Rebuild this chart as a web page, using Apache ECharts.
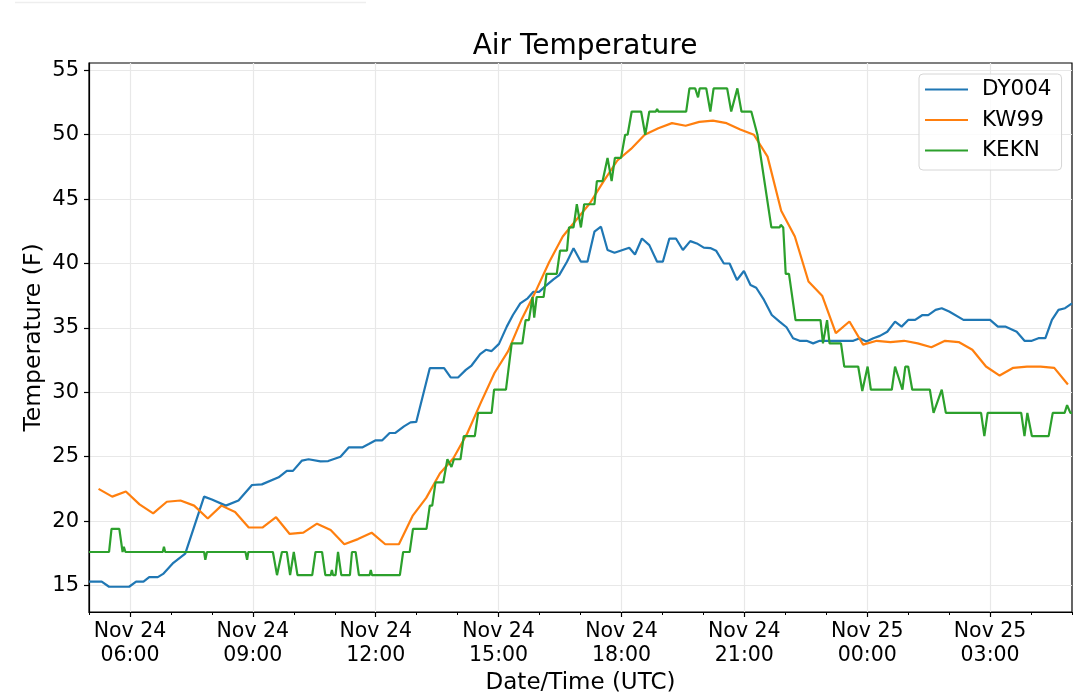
<!DOCTYPE html>
<html>
<head>
<meta charset="utf-8">
<title>Air Temperature</title>
<script src="https://cdn.jsdelivr.net/npm/echarts@6/dist/echarts.min.js"></script>
<style>
  html, body { margin: 0; padding: 0; background: #fff; }
  #chart { width: 1080px; height: 697px; }
</style>
</head>
<body>
<div id="chart"></div>
<script>
// x values are hours counted from Nov 24 00:00 UTC
const baseDay = Date.UTC(2019, 10, 24);
const stationNames = ["DY004", "KW99", "KEKN"];
const stationColors = ["#1f77b4", "#ff7f0e", "#2ca02c"];

// DY004: [hour, temp F]
const dyPoints = [
  [5.0,15.3],[5.31,15.3],[5.49,14.9],[5.98,14.9],[6.15,15.3],[6.33,15.3],[6.47,15.65],[6.68,15.65],
  [6.81,15.9],[7.06,16.76],[7.35,17.48],[7.81,21.9],[8.0,21.67],[8.34,21.2],[8.65,21.6],[8.98,22.8],
  [9.22,22.85],[9.63,23.4],[9.83,23.9],[9.98,23.9],[10.2,24.7],[10.36,24.8],[10.65,24.64],[10.84,24.66],
  [11.14,25.0],[11.34,25.72],[11.67,25.72],[11.83,25.98],[12.0,26.27],[12.16,26.27],[12.34,26.84],[12.48,26.84],
  [12.69,27.35],[12.85,27.66],[12.99,27.7],[13.32,31.87],[13.67,31.87],[13.83,31.15],[14.01,31.15],[14.2,31.74],
  [14.34,32.08],[14.55,32.96],[14.69,33.3],[14.83,33.2],[15.01,33.76],[15.2,35.1],[15.35,36.0],[15.53,36.9],
  [15.71,37.3],[15.85,37.8],[15.99,37.8],[16.15,38.26],[16.34,38.77],[16.48,39.1],[16.67,40.14],[16.83,41.18],
  [17.01,40.14],[17.17,40.14],[17.34,42.47],[17.5,42.86],[17.66,41.05],[17.83,40.84],[18.19,41.23],[18.33,40.7],
  [18.5,41.94],[18.68,41.43],[18.87,40.14],[19.01,40.14],[19.17,41.94],[19.33,41.94],[19.5,41.05],[19.68,41.74],
  [19.84,41.56],[20.01,41.23],[20.17,41.2],[20.31,41.0],[20.5,40.0],[20.64,40.0],[20.82,38.72],[20.99,39.42],
  [21.15,38.33],[21.29,38.12],[21.48,37.17],[21.67,36.0],[21.86,35.49],[22.03,35.05],[22.19,34.2],[22.35,34.0],
  [22.52,34.0],[22.68,33.8],[22.84,34.0],[23.66,34.0],[23.82,34.2],[23.98,33.95],[24.15,34.2],[24.31,34.38],
  [24.49,34.7],[24.68,35.49],[24.84,35.1],[25.0,35.62],[25.17,35.62],[25.35,36.0],[25.49,36.0],[25.67,36.4],
  [25.82,36.53],[26.0,36.27],[26.35,35.62],[27.0,35.62],[27.19,35.1],[27.37,35.1],[27.65,34.7],[27.84,34.0],
  [28.02,34.0],[28.18,34.2],[28.35,34.2],[28.51,35.62],[28.67,36.4],[28.83,36.53],[29.0,36.9]
];

// KW99: one reading every 20 minutes from 05:14
const kwStartHour = 5 + 14 / 60;
const kwStepHours = 20 / 60;
const kwTemps = [
  22.5,21.9,22.3,21.3,20.6,21.5,21.6,21.2,20.2,21.2,
  20.7,19.5,19.5,20.3,19.0,19.1,19.8,19.3,18.2,18.6,
  19.1,18.2,18.2,20.4,21.8,23.7,24.9,26.8,29.2,31.5,
  33.2,35.7,37.8,40.1,42.1,43.4,44.7,46.4,48.0,48.9,
  50.0,50.5,50.9,50.7,51.0,51.1,50.9,50.4,50.0,48.3,
  44.1,42.1,38.6,37.5,34.6,35.5,33.7,34.0,33.9,34.0,
  33.8,33.5,34.0,33.9,33.3,32.0,31.3,31.9,32.0,32.0,
  31.9,30.6
];

// KEKN: [hour, temp F]
const kePoints = [
  [5.0,17.6],[5.49,17.6],[5.55,19.4],[5.74,19.4],[5.82,17.6],[5.85,18.0],[5.89,17.6],[6.8,17.6],
  [6.83,18.0],[6.86,17.6],[7.81,17.6],[7.84,17.0],[7.88,17.6],[8.82,17.6],[8.86,17.0],[8.89,17.6],
  [9.49,17.6],[9.59,15.8],[9.71,17.6],[9.83,17.6],[9.91,15.8],[10.0,17.6],[10.09,15.8],[10.45,15.8],
  [10.53,17.6],[10.69,17.6],[10.77,15.8],[10.9,15.8],[10.93,16.2],[10.96,15.8],[11.02,15.8],[11.08,17.6],
  [11.16,15.8],[11.37,15.8],[11.42,17.6],[11.51,17.6],[11.59,15.8],[11.85,15.8],[11.88,16.2],[11.91,15.8],
  [12.59,15.8],[12.67,17.6],[12.83,17.6],[12.91,19.4],[13.24,19.4],[13.32,21.2],[13.38,21.2],[13.46,23.0],
  [13.65,23.0],[13.75,24.8],[13.85,24.2],[13.91,24.8],[14.07,24.8],[14.15,26.6],[14.42,26.6],[14.5,28.4],
  [14.83,28.4],[14.89,30.2],[15.18,30.2],[15.32,33.8],[15.58,33.8],[15.66,35.6],[15.74,35.6],[15.83,37.4],
  [15.87,35.8],[15.93,37.4],[16.1,37.4],[16.17,39.2],[16.42,39.2],[16.5,41.0],[16.67,41.0],[16.72,42.8],
  [16.83,42.8],[16.91,44.6],[17.01,42.8],[17.09,44.6],[17.34,44.6],[17.4,46.4],[17.54,46.4],[17.66,48.2],
  [17.76,46.4],[17.84,48.2],[17.99,48.2],[18.09,50.0],[18.15,50.0],[18.25,51.8],[18.48,51.8],[18.58,50.0],
  [18.68,51.8],[18.84,51.8],[18.87,52.0],[18.9,51.8],[19.58,51.8],[19.66,53.6],[19.8,53.6],[19.87,52.9],
  [19.91,53.6],[20.07,53.6],[20.17,51.8],[20.25,53.6],[20.58,53.6],[20.68,51.8],[20.83,53.6],[20.93,51.8],
  [21.17,51.8],[21.32,50.0],[21.66,42.8],[21.86,42.8],[21.89,43.0],[21.95,42.8],[22.01,39.2],[22.09,39.2],
  [22.25,35.6],[22.86,35.6],[22.92,33.8],[23.02,35.6],[23.08,33.8],[23.36,33.8],[23.44,32.0],[23.78,32.0],
  [23.88,30.1],[24.01,32.0],[24.09,30.2],[24.6,30.2],[24.68,32.0],[24.86,30.2],[24.93,32.0],[25.0,32.0],
  [25.1,30.2],[25.53,30.2],[25.62,28.4],[25.82,30.2],[25.92,28.4],[26.78,28.4],[26.86,26.6],[26.94,28.4],
  [27.76,28.4],[27.84,26.6],[27.91,28.4],[28.02,26.6],[28.43,26.6],[28.53,28.4],[28.82,28.4],[28.88,29.0],
  [28.96,28.4],[29.0,28.4]
];

// axis ticks
const majorTickHours = [6, 9, 12, 15, 18, 21, 24, 27];
const minorTickHours = [5,6,7,8,9,10,11,12,13,14,15,16,17,18,19,20,21,22,23,24,25,26,27,28,29];
const yTicks = [15, 20, 25, 30, 35, 40, 45, 50, 55];
const xMinHour = 5.0, xMaxHour = 29.0;
const yMin = 12.94, yMax = 55.57;

const months = ["Jan","Feb","Mar","Apr","May","Jun","Jul","Aug","Sep","Oct","Nov","Dec"];
const pad = (n) => String(n).padStart(2, "0");
const hourLabel = (h) => {
  const d = new Date(baseDay + Math.round(h * 60) * 60000);
  return months[d.getUTCMonth()] + " " + d.getUTCDate() + "\n" + pad(d.getUTCHours()) + ":" + pad(d.getUTCMinutes());
};

const kwPoints = kwTemps.map((t, i) => [kwStartHour + i * kwStepHours, t]);

const font = "DejaVu Sans";
const chart = echarts.init(document.getElementById("chart"));

const makeSeries = (idx, data) => ({
  name: stationNames[idx],
  type: "line",
  data: data,
  showSymbol: false,
  symbol: "none",
  color: stationColors[idx],
  lineStyle: { width: 2.2, color: stationColors[idx] },
});

chart.setOption({
  animation: false,
  backgroundColor: "#fff",
  textStyle: { fontFamily: font },
  title: {
    text: "Air Temperature",
    left: 580,
    top: 28,
    textAlign: "center",
    textStyle: { fontFamily: font, fontSize: 28, fontWeight: "normal", color: "#000" },
  },
  legend: {
    data: stationNames,
    left: 919,
    top: 74,
    orient: "vertical",
    icon: "rect",
    itemWidth: 43,
    itemHeight: 2,
    itemGap: 6.5,
    padding: [3.5, 10, 7.5, 6],
    backgroundColor: "rgba(255,255,255,0.8)",
    borderColor: "#d6d6d6",
    borderWidth: 1,
    borderRadius: 4,
    textStyle: { fontFamily: font, fontSize: 21.5, color: "#000", lineHeight: 24, padding: [0, 0, 0, 9] },
  },
  grid: {
    left: 89,
    right: 8,
    top: 63,
    bottom: 85,
    outerBoundsMode: "none",
    containLabel: false,
    show: true,
    borderColor: "#000",
    borderWidth: 1.2,
  },
  xAxis: [
    {
      type: "value",
      min: xMinHour,
      max: xMaxHour,
      name: "Date/Time (UTC)",
      nameLocation: "middle",
      nameGap: 57,
      nameTextStyle: { fontFamily: font, fontSize: 23, color: "#000" },
      axisLine: { show: true, onZero: false, lineStyle: { color: "#000", width: 1.2 } },
      axisTick: { show: true, length: 5, lineStyle: { color: "#000", width: 1.2 }, customValues: majorTickHours },
      axisLabel: {
        customValues: majorTickHours,
        fontFamily: font,
        fontSize: 20.5,
        lineHeight: 23.5,
        color: "#000",
        margin: 8,
        hideOverlap: false,
        formatter: hourLabel,
      },
      splitLine: { show: true, lineStyle: { color: "#e8e8e8", width: 1.2 } },
    },
    {
      type: "value",
      gridIndex: 0,
      position: "bottom",
      min: xMinHour,
      max: xMaxHour,
      axisLine: { show: false, onZero: false },
      axisTick: { show: true, length: 3, lineStyle: { color: "#000", width: 1 }, customValues: minorTickHours },
      axisLabel: { show: false },
      splitLine: { show: false },
    },
  ],
  yAxis: {
    type: "value",
    min: yMin,
    max: yMax,
    name: "Temperature (F)",
    nameLocation: "middle",
    nameGap: 43,
    nameMoveOverlap: false,
    nameTextStyle: { fontFamily: font, fontSize: 23.5, color: "#000" },
    axisLine: { show: true, onZero: false, lineStyle: { color: "#000", width: 1.2 } },
    axisTick: { show: true, length: 5, lineStyle: { color: "#000", width: 1.2 }, customValues: yTicks },
    axisLabel: { customValues: yTicks, fontFamily: font, fontSize: 21, color: "#000", margin: 10 },
    splitLine: { show: true, lineStyle: { color: "#e8e8e8", width: 1.2 } },
  },
  graphic: [
    { type: "line", shape: { x1: 15, y1: 2.5, x2: 366, y2: 2.5 }, style: { stroke: "#eeeeee", lineWidth: 1.5 } },
  ],
  series: [
    makeSeries(0, dyPoints),
    makeSeries(1, kwPoints),
    makeSeries(2, kePoints),
  ],
});
</script>
</body>
</html>
